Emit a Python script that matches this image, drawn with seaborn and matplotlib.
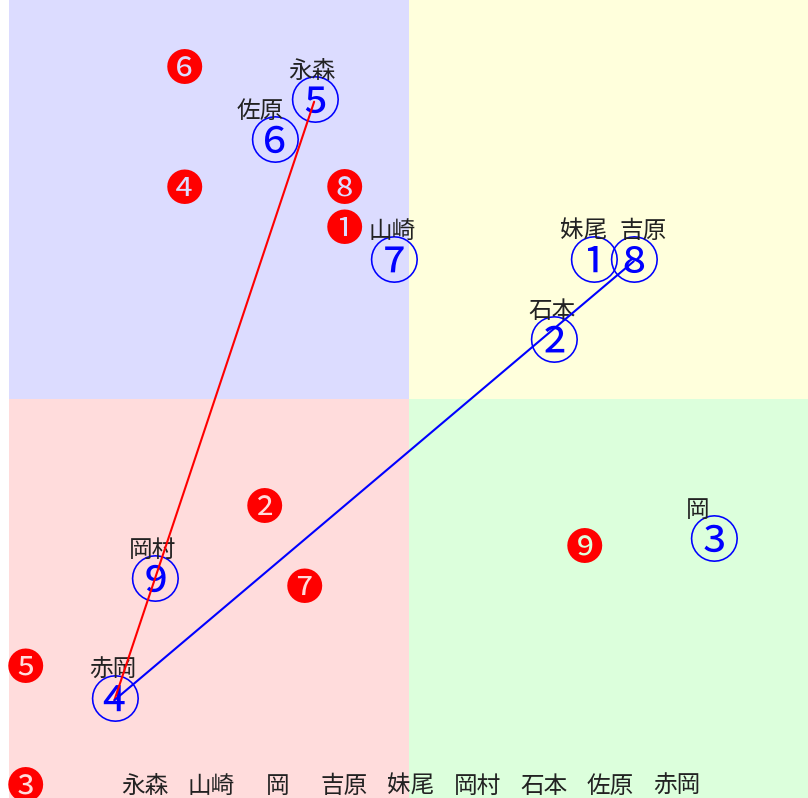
import matplotlib
matplotlib.use('Agg')
import matplotlib.pyplot as plt
import matplotlib.transforms as mtransforms
from matplotlib.patches import Rectangle
import seaborn as sns
import pandas as pd
import numpy as np

# ---- data ----
circled = ['①', '②', '③', '④', '⑤', '⑥', '⑦', '⑧', '⑨']
names = ['妹尾', '石本', '岡', '赤岡', '永森', '佐原', '山崎', '吉原', '岡村']
blue_x = [14, 13, 17, 2, 7, 6, 9, 15, 3]
blue_y = [13, 11, 6, 2, 17, 16, 13, 13, 5]

filled = ['❶', '❷', '❸', '❹', '❺', '❻', '❼', '❽', '❾']
red_x = [8, 6, 0, 4, 0, 4, 7, 8, 14]
red_y = [14, 7, 0, 15, 3, 18, 5, 15, 6]

bottom_names = ['永森', '山崎', '岡', '吉原', '妹尾', '岡村', '石本', '佐原', '赤岡']

red_link = ['④', '⑤']
blue_link = ['④', '⑧']

# ---- style ----
sns.set_style('white')
plt.rcParams['font.family'] = ['Noto Sans CJK JP', 'DejaVu Sans']

quad_colors = {'tl': '#dcdcff', 'tr': '#ffffdc', 'bl': '#ffdcdc', 'br': '#dcffdc'}
label_nudge_px = {'佐原': -12, '妹尾': -8, '吉原': 11, '岡': -14}

fig = plt.figure(figsize=(8.08, 7.98), dpi=100)
ax = fig.add_axes([9 / 808, 0, 799 / 808, 1])

# quadrants
ax.add_patch(Rectangle((0, 10), 10, 10, color=quad_colors['tl'], lw=0, zorder=0))
ax.add_patch(Rectangle((10, 10), 10, 10, color=quad_colors['tr'], lw=0, zorder=0))
ax.add_patch(Rectangle((0, 0), 10, 10, color=quad_colors['bl'], lw=0, zorder=0))
ax.add_patch(Rectangle((10, 0), 10, 10, color=quad_colors['br'], lw=0, zorder=0))

blue_tr = mtransforms.offset_copy(ax.transData, fig=fig, x=25.5, y=18, units='dots')
blue_txt_tr = mtransforms.offset_copy(ax.transData, fig=fig, x=25.5, y=14.5, units='dots')
red_tr = mtransforms.offset_copy(ax.transData, fig=fig, x=16, y=9, units='dots')

# blue circled numbers + names
for s, n, x, y in zip(circled, names, blue_x, blue_y):
    ax.text(x, y, s, transform=blue_txt_tr, ha='center', va='center',
            fontsize=36.5, color='#0000ff', zorder=3)
    lt = mtransforms.offset_copy(ax.transData, fig=fig,
                                 x=25.5 - 2 + label_nudge_px.get(n, 0), y=18 + 30, units='dots')
    ax.text(x, y, n, transform=lt, ha='center', va='center',
            fontsize=17, color='#222222', zorder=3)

# red filled numbers
for s, x, y in zip(filled, red_x, red_y):
    ax.text(x, y, s, transform=red_tr, ha='center', va='center',
            fontsize=27, color='#ff0000', zorder=3)

# links
def pts(link):
    idx = [circled.index(c) for c in link]
    return pd.DataFrame({'x': [blue_x[i] for i in idx], 'y': [blue_y[i] for i in idx]})

sns.lineplot(data=pts(red_link), x='x', y='y', color='#ff0000', linewidth=1.5,
             transform=blue_tr, ax=ax, zorder=4, legend=False)
sns.lineplot(data=pts(blue_link), x='x', y='y', color='#0000ff', linewidth=1.5,
             transform=blue_tr, ax=ax, zorder=4, legend=False)

# bottom row of names
for n, x in zip(bottom_names, np.linspace(3.4, 16.72, len(bottom_names))):
    ax.text(x, 0.3, n, ha='center', va='center', fontsize=17, color='#222222', zorder=3)

ax.set_xlim(0, 20)
ax.set_ylim(0, 20)
ax.axis('off')
fig.savefig('out.png', dpi=100)
